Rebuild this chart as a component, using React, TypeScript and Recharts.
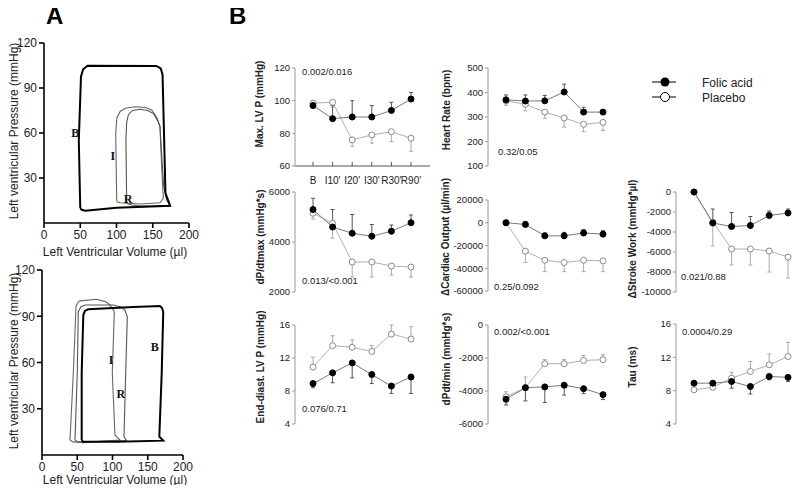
import React from 'react';
import { LineChart, Line, XAxis, YAxis, ErrorBar, ReferenceDot } from 'recharts';

// time points shared by every trend panel
const TIMES = ['B', "I10'", "I20'", "I30'", "R30'", "R90'"];

// Panel A: pressure-volume loops as [volume (µl), pressure (mmHg)]
const TOP_LOOP_B: [number, number][] = [
  [50, 10], [48, 55], [51, 97.5], [54, 102.5], [60, 104.8], [155, 104.7], [161, 103], [163.5, 99],
  [165.5, 60], [167.5, 20], [174, 11.5], [100, 10.2], [57, 8.2], [52, 8.8], [50, 10],
];
const TOP_LOOP_I: [number, number][] = [
  [100.3, 15.3], [98.9, 59.8], [100.5, 70], [104.8, 74.2], [112, 76.5], [125.5, 77.5], [140, 77],
  [148.5, 75.3], [156, 70], [160, 64.2], [162.3, 37.5], [164.6, 16.5], [160, 13.5], [132.4, 12.7],
  [104.8, 13.5], [101, 14], [100.3, 15.3],
];
const TOP_LOOP_R: [number, number][] = [
  [114, 15.3], [113, 55.3], [114, 67], [116.3, 72], [122, 75], [132.4, 75.8], [143, 75], [150.8, 73],
  [157, 68], [160, 64.2], [163, 40], [165, 25], [169.2, 15.3], [173.8, 11.5], [132.4, 11.3], [121, 12],
  [115, 13], [114, 15.3],
];
const BOTTOM_LOOP_B: [number, number][] = [
  [56.3, 9.7], [56.3, 53], [58.6, 90.8], [61, 93.5], [65.7, 94.5], [129.5, 96], [167.4, 96.6], [170, 95.5],
  [172, 93], [169.8, 53], [166.4, 11.9], [172, 9.3], [106, 8.6], [58, 8.6], [56.3, 9.7],
];
const BOTTOM_LOOP_I: [number, number][] = [
  [39.7, 9.7], [44.4, 53], [48.2, 96.2], [51, 99], [53.9, 100], [77.6, 101], [90, 99.5], [96.5, 97.3],
  [102.6, 93], [99.7, 53], [103.5, 13], [110.6, 9.7], [58.6, 8], [44, 8.5], [39.7, 9.7],
];
const BOTTOM_LOOP_R: [number, number][] = [
  [46.8, 9.7], [50, 53], [51.5, 93], [55, 96], [61, 97.3], [101, 97.3], [112, 96], [117.7, 94],
  [121, 89.7], [118.7, 53], [116.3, 11.9], [120, 9.3], [63.4, 8.6], [50, 8.6], [46.8, 9.7],
];
const TOP_LOOP_LABELS = [
  { t: 'B', v: 43, p: 60 },
  { t: 'I', v: 95, p: 44.7 },
  { t: 'R', v: 116, p: 16 },
];
const BOTTOM_LOOP_LABELS = [
  { t: 'B', v: 160, p: 70 },
  { t: 'I', v: 98, p: 61.6 },
  { t: 'R', v: 112, p: 40 },
];
const VOL_TICKS = [0, 50, 100, 150, 200];
const PRESS_TICKS = [30, 60, 90, 120];

// Panel B: means and SEM
const MAX_LVP_FOLIC = [97, 89, 90, 90, 94, 101];
const MAX_LVP_FOLIC_SEM = [3, 8, 10, 7, 5, 4];
const MAX_LVP_PLACEBO = [98.5, 99, 76, 79, 81, 77];
const MAX_LVP_PLACEBO_SEM = [2, 3, 4, 5, 6, 8];

const HR_FOLIC = [370, 365, 366, 402, 320, 320];
const HR_FOLIC_SEM = [20, 25, 22, 32, 20, 8];
const HR_PLACEBO = [366, 352, 320, 296, 270, 278];
const HR_PLACEBO_SEM = [18, 27, 25, 37, 30, 33];

const DPDTMAX_FOLIC = [5300, 4600, 4350, 4230, 4430, 4770];
const DPDTMAX_FOLIC_SEM = [450, 700, 750, 470, 250, 310];
const DPDTMAX_PLACEBO = [5150, 4750, 3200, 3200, 3040, 3000];
const DPDTMAX_PLACEBO_SEM = [230, 600, 600, 600, 360, 400];

const CO_FOLIC = [0, -1500, -11500, -11500, -9000, -10000];
const CO_FOLIC_SEM = [0, 2500, 2500, 3000, 3000, 3000];
const CO_PLACEBO = [0, -25000, -33000, -35000, -33000, -33500];
const CO_PLACEBO_SEM = [0, 10000, 10000, 8000, 10000, 9500];

const SW_FOLIC = [0, -3100, -3450, -3350, -2350, -2100];
const SW_FOLIC_SEM = [0, 1400, 1400, 900, 450, 400];
const SW_PLACEBO = [0, -3000, -5700, -5700, -5900, -6500];
const SW_PLACEBO_SEM = [0, 2400, 1600, 1600, 2100, 2100];

const EDP_FOLIC = [8.9, 10.2, 11.4, 10.0, 8.6, 9.7];
const EDP_FOLIC_SEM = [0.5, 1.2, 1.8, 1.1, 0.9, 2.0];
const EDP_PLACEBO = [10.9, 13.5, 13.3, 12.8, 14.9, 14.3];
const EDP_PLACEBO_SEM = [1.2, 1.2, 0.9, 0.7, 1.1, 1.5];

const DPDTMIN_FOLIC = [-4500, -3800, -3750, -3650, -3860, -4220];
const DPDTMIN_FOLIC_SEM = [350, 800, 950, 600, 300, 300];
const DPDTMIN_PLACEBO = [-4350, -3800, -2350, -2350, -2150, -2100];
const DPDTMIN_PLACEBO_SEM = [300, 650, 250, 250, 300, 300];

const TAU_FOLIC = [8.9, 8.9, 9.1, 8.5, 9.7, 9.6];
const TAU_FOLIC_SEM = [0.2, 0.2, 0.8, 0.9, 0.4, 0.5];
const TAU_PLACEBO = [8.1, 8.4, 9.5, 10.3, 11.1, 12.1];
const TAU_PLACEBO_SEM = [0.2, 0.2, 0.7, 1.2, 1.3, 1.7];

const SANS = 'Liberation Sans, Arial, sans-serif';
const SERIF = 'Liberation Serif, Times New Roman, serif';

const toRows = (pts: [number, number][]) => pts.map(([v, p]) => ({ v, p }));

interface PvProps {
  top: number;
  yw: number;
  plotW: number;
  plotH: number;
  rightM: number;
  b: [number, number][];
  i: [number, number][];
  r: [number, number][];
  labels: { t: string; v: number; p: number }[];
}

const PvChart: React.FC<PvProps> = ({ top, yw, plotW, plotH, rightM, b, i, r, labels }) => {
  const axis = { stroke: '#000', strokeWidth: 1.6 };
  const tick = { fontSize: 12, fill: '#222', fontFamily: SANS };
  return (
    <div style={{ position: 'absolute', left: 0, top }}>
      <LineChart
        width={yw + plotW + rightM}
        height={43 + plotH + 30}
        margin={{ top: 43, right: rightM, bottom: 0, left: 0 }}
      >
        <XAxis type="number" dataKey="v" domain={[0, 200]} ticks={VOL_TICKS} interval={0}
          height={30} axisLine={axis} tickLine={axis} tickSize={5} tick={tick} />
        <YAxis type="number" domain={[0, 120]} ticks={PRESS_TICKS} interval={0}
          width={yw} axisLine={axis} tickLine={axis} tickSize={5} tick={tick} />
        <Line data={toRows(i)} dataKey="p" type="linear" dot={false} stroke="#666" strokeWidth={1.1} isAnimationActive={false} />
        <Line data={toRows(r)} dataKey="p" type="linear" dot={false} stroke="#555" strokeWidth={1.1} isAnimationActive={false} />
        <Line data={toRows(b)} dataKey="p" type="linear" dot={false} stroke="#000" strokeWidth={2} isAnimationActive={false} />
        {labels.map((l) => (
          <ReferenceDot key={l.t} x={l.v} y={l.p} r={0} stroke="none"
            label={{ value: l.t, position: 'center', fill: '#111', fontSize: 12, fontWeight: 700, fontFamily: SERIF }} />
        ))}
      </LineChart>
    </div>
  );
};

interface TrendProps {
  axisX: number;
  top: number;
  bottom: number;
  right: number;
  padR: number;
  domain: [number, number];
  ticks: number[];
  folic: number[];
  folicSem: number[];
  placebo: number[];
  placeboSem: number[];
  folicUp: boolean;
  showX?: boolean;
}

const YW = 40;
const MT = 10;
const MB = 10;

const TrendPanel: React.FC<TrendProps> = (p) => {
  const rows = TIMES.map((t, k) => ({
    t,
    f: p.folic[k],
    pl: p.placebo[k],
    fe: p.folicUp ? [0, p.folicSem[k]] : [p.folicSem[k], 0],
    pe: p.folicUp ? [p.placeboSem[k], 0] : [0, p.placeboSem[k]],
  }));
  const xh = p.showX ? 24 : 0;
  const w = YW + (p.right - p.axisX);
  const h = MT + (p.bottom - p.top) + MB + xh;
  const tick = { fontSize: 9.5, fill: '#222', fontFamily: SANS };
  return (
    <div style={{ position: 'absolute', left: p.axisX - YW, top: p.top - MT }}>
      <LineChart width={w} height={h} data={rows} margin={{ top: MT, right: 0, bottom: MB, left: 0 }}>
        <XAxis dataKey="t" type="category" padding={{ left: 18, right: p.padR }} hide={!p.showX}
          height={xh} interval={0} axisLine={{ stroke: '#555' }} tickLine={{ stroke: '#555' }}
          tickSize={-4} tickMargin={15} tick={{ ...tick, fontSize: 10 }} />
        <YAxis type="number" domain={p.domain} ticks={p.ticks} interval={0} width={YW}
          axisLine={{ stroke: '#999' }} tickLine={{ stroke: '#999' }} tickSize={3} tickMargin={2} tick={tick} />
        <Line dataKey="pl" type="linear" stroke="#b0b0b0" strokeWidth={1}
          dot={{ r: 3, fill: '#fff', stroke: '#8a8a8a', strokeWidth: 1 }} isAnimationActive={false}>
          <ErrorBar dataKey="pe" direction="y" width={2} stroke="#aaa" strokeWidth={1} />
        </Line>
        <Line dataKey="f" type="linear" stroke="#7a7a7a" strokeWidth={1}
          dot={{ r: 3, fill: '#000', stroke: '#000', strokeWidth: 1 }} isAnimationActive={false}>
          <ErrorBar dataKey="fe" direction="y" width={2} stroke="#555" strokeWidth={1} />
        </Line>
      </LineChart>
    </div>
  );
};

const VTitle: React.FC<{ x: number; y: number; size: number; bold?: boolean; children: React.ReactNode }> = ({ x, y, size, bold, children }) => (
  <div
    style={{
      position: 'absolute', left: x, top: y, transform: 'translate(-50%, -50%) rotate(-90deg)',
      whiteSpace: 'nowrap', fontFamily: SANS, fontSize: size, fontWeight: bold ? 700 : 400, color: '#222', lineHeight: 1,
    }}
  >
    {children}
  </div>
);

const Note: React.FC<{ x: number; y: number; children: React.ReactNode }> = ({ x, y, children }) => (
  <div style={{ position: 'absolute', left: x, top: y, transform: 'translateY(-50%)', whiteSpace: 'nowrap', fontFamily: SANS, fontSize: 9.5, color: '#222', lineHeight: 1 }}>
    {children}
  </div>
);

const HTitle: React.FC<{ x: number; y: number; children: React.ReactNode }> = ({ x, y, children }) => (
  <div style={{ position: 'absolute', left: x, top: y, transform: 'translate(-50%, -50%)', whiteSpace: 'nowrap', fontFamily: SANS, fontSize: 12, color: '#222', lineHeight: 1 }}>
    {children}
  </div>
);

const COL1 = { axisX: 295, right: 430, padR: 19 };
const COL2 = { axisX: 488, right: 622, padR: 19 };
const COL3 = { axisX: 676, right: 800, padR: 12 };

export default function App() {
  return (
    <div style={{ position: 'relative', width: 800, height: 493, background: '#fff', overflow: 'hidden', margin: -8 }}>
      <div style={{ position: 'absolute', left: 46, top: 2, fontFamily: SANS, fontWeight: 700, fontSize: 24 }}>A</div>
      <div style={{ position: 'absolute', left: 229, top: 2, fontFamily: SANS, fontWeight: 700, fontSize: 24 }}>B</div>

      <PvChart top={0} yw={44} plotW={145} plotH={180} rightM={11} b={TOP_LOOP_B} i={TOP_LOOP_I} r={TOP_LOOP_R} labels={TOP_LOOP_LABELS} />
      <PvChart top={227} yw={42} plotW={141} plotH={185} rightM={17} b={BOTTOM_LOOP_B} i={BOTTOM_LOOP_I} r={BOTTOM_LOOP_R} labels={BOTTOM_LOOP_LABELS} />
      <VTitle x={14} y={131} size={12}>Left ventricular Pressure (mmHg)</VTitle>
      <HTitle x={115} y={252}>Left Ventricular Volume (µl)</HTitle>
      <VTitle x={14} y={361} size={12}>Left ventricular Pressure (mmHg)</VTitle>
      <HTitle x={115} y={480}>Left Ventricular Volume (µl)</HTitle>

      <TrendPanel {...COL1} top={68} bottom={166} domain={[60, 120]} ticks={[60, 80, 100, 120]} showX
        folic={MAX_LVP_FOLIC} folicSem={MAX_LVP_FOLIC_SEM} placebo={MAX_LVP_PLACEBO} placeboSem={MAX_LVP_PLACEBO_SEM} folicUp />
      <TrendPanel {...COL2} top={68} bottom={166} domain={[100, 500]} ticks={[100, 200, 300, 400, 500]}
        folic={HR_FOLIC} folicSem={HR_FOLIC_SEM} placebo={HR_PLACEBO} placeboSem={HR_PLACEBO_SEM} folicUp />
      <TrendPanel {...COL1} top={192} bottom={292} domain={[2000, 6000]} ticks={[2000, 4000, 6000]}
        folic={DPDTMAX_FOLIC} folicSem={DPDTMAX_FOLIC_SEM} placebo={DPDTMAX_PLACEBO} placeboSem={DPDTMAX_PLACEBO_SEM} folicUp />
      <TrendPanel {...COL2} top={200} bottom={291} domain={[-60000, 20000]} ticks={[-60000, -40000, -20000, 0, 20000]}
        folic={CO_FOLIC} folicSem={CO_FOLIC_SEM} placebo={CO_PLACEBO} placeboSem={CO_PLACEBO_SEM} folicUp />
      <TrendPanel {...COL3} top={192} bottom={292} domain={[-10000, 0]} ticks={[-10000, -8000, -6000, -4000, -2000, 0]}
        folic={SW_FOLIC} folicSem={SW_FOLIC_SEM} placebo={SW_PLACEBO} placeboSem={SW_PLACEBO_SEM} folicUp />
      <TrendPanel {...COL1} top={325} bottom={424} domain={[4, 16]} ticks={[4, 8, 12, 16]}
        folic={EDP_FOLIC} folicSem={EDP_FOLIC_SEM} placebo={EDP_PLACEBO} placeboSem={EDP_PLACEBO_SEM} folicUp={false} />
      <TrendPanel {...COL2} top={325} bottom={424} domain={[-6000, 0]} ticks={[-6000, -4000, -2000, 0]}
        folic={DPDTMIN_FOLIC} folicSem={DPDTMIN_FOLIC_SEM} placebo={DPDTMIN_PLACEBO} placeboSem={DPDTMIN_PLACEBO_SEM} folicUp={false} />
      <TrendPanel {...COL3} top={324} bottom={424} domain={[4, 16]} ticks={[4, 8, 12, 16]}
        folic={TAU_FOLIC} folicSem={TAU_FOLIC_SEM} placebo={TAU_PLACEBO} placeboSem={TAU_PLACEBO_SEM} folicUp={false} />

      <VTitle x={260} y={104} size={10} bold>Max. LV P (mmHg)</VTitle>
      <VTitle x={447} y={110} size={10} bold>Heart Rate (bpm)</VTitle>
      <VTitle x={261} y={237} size={10} bold>dP/dtmax (mmHg*s)</VTitle>
      <VTitle x={446} y={237} size={10} bold>ΔCardiac Output (µl/min)</VTitle>
      <VTitle x={633} y={239} size={10} bold>ΔStroke Work (mmHg*µl)</VTitle>
      <VTitle x={261} y={367} size={10} bold>End-diast.  LV P (mmHg)</VTitle>
      <VTitle x={447} y={359} size={10} bold>dPdt/min (mmHg*s)</VTitle>
      <VTitle x={633} y={367} size={10} bold>Tau (ms)</VTitle>

      <Note x={302} y={72}>0.002/0.016</Note>
      <Note x={498} y={152}>0.32/0.05</Note>
      <Note x={302} y={281}>0.013/&lt;0.001</Note>
      <Note x={494} y={287}>0.25/0.092</Note>
      <Note x={681} y={277}>0.021/0.88</Note>
      <Note x={302} y={409}>0.076/0.71</Note>
      <Note x={494} y={332}>0.002/&lt;0.001</Note>
      <Note x={682} y={332}>0.0004/0.29</Note>

      <svg style={{ position: 'absolute', left: 648, top: 72 }} width={30} height={34}>
        <line x1={4} y1={10} x2={28} y2={10} stroke="#000" strokeWidth={1} />
        <circle cx={17} cy={10} r={4.5} fill="#000" />
        <line x1={4} y1={25} x2={28} y2={25} stroke="#000" strokeWidth={1} />
        <circle cx={17} cy={25} r={4.5} fill="#fff" stroke="#000" strokeWidth={1} />
      </svg>
      <div style={{ position: 'absolute', left: 702, top: 76, fontFamily: SANS, fontSize: 12, color: '#222', lineHeight: '15px' }}>
        Folic acid<br />Placebo
      </div>
    </div>
  );
}
